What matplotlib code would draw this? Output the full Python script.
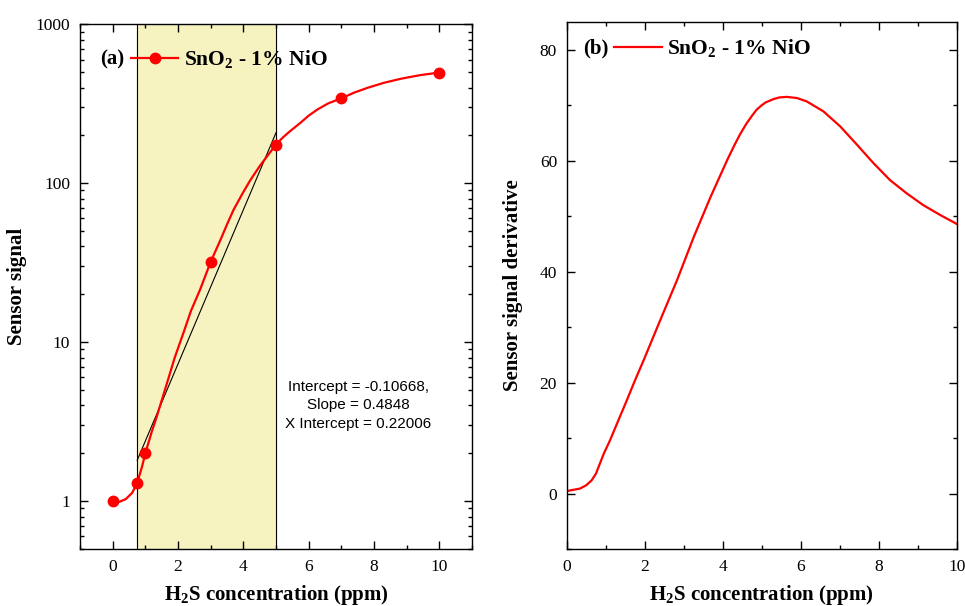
import numpy as np
import matplotlib
matplotlib.use('Agg')
import matplotlib.pyplot as plt
from matplotlib.ticker import FixedLocator, MultipleLocator, LogLocator, NullFormatter

plt.rcParams['font.family'] = 'Liberation Serif'
plt.rcParams['mathtext.fontset'] = 'custom'
plt.rcParams['mathtext.bf'] = 'Liberation Serif:bold'
plt.rcParams['mathtext.rm'] = 'Liberation Serif'
plt.rcParams['axes.linewidth'] = 1.0

# measured sensor response
conc = [0, 0.75, 1, 3, 5, 7, 10]
signal = [1.0, 1.3, 2.0, 32, 175, 342, 497]

# smoothed response curve
curve_x = [0, 0.2, 0.4, 0.6, 0.75, 0.9, 1.0, 1.2, 1.35, 1.5, 1.66, 1.9, 2.17, 2.4, 2.68, 3.0,
           3.3, 3.5, 3.7, 4.0, 4.22, 4.5, 4.73, 5.0, 5.2, 5.4, 5.75, 6.0, 6.27, 6.6, 7.0,
           7.4, 7.8, 8.3, 8.82, 9.4, 10.0]
curve_y = [1.0, 0.99, 1.03, 1.13, 1.3, 1.65, 2.0, 2.75, 3.4, 4.3, 5.5, 8.0, 11.5, 15.8, 21.5,
           32, 44, 55, 68, 88, 105, 128, 148, 175, 193, 210, 240, 266, 291, 318, 342,
           372, 398, 428, 454, 478, 497]

# linear fit of log10(signal) in the shaded window
fit_intercept = -0.10668
fit_slope = 0.4848
fit_range = [0.75, 5.0]

# derivative of the response
deriv_x = [0, 0.34, 0.5, 0.64, 0.75, 0.85, 0.95, 1.11, 1.3, 1.54, 1.75, 1.97, 2.40, 2.83, 3.26,
           3.69, 4.12, 4.3, 4.44, 4.6, 4.75, 4.87, 5.0, 5.1, 5.30, 5.45, 5.64, 5.9, 6.15, 6.58,
           7.01, 7.44, 7.86, 8.29, 8.72, 9.14, 9.58, 10.0]
deriv_y = [0.45, 0.9, 1.5, 2.4, 3.6, 5.4, 7.2, 9.6, 12.8, 16.8, 20.4, 24.0, 31.3, 38.5, 46.3,
           53.5, 60.2, 62.8, 64.7, 66.6, 68.1, 69.2, 70.0, 70.5, 71.1, 71.4, 71.5, 71.3, 70.7,
           68.9, 66.2, 62.9, 59.6, 56.5, 54.1, 52.0, 50.2, 48.6]

RED = '#ff0000'
legend_label = r'SnO$_\mathbf{2}$ - 1% NiO'
xlabel = r'H$_\mathbf{2}$S concentration (ppm)'

fig = plt.figure(figsize=(9.65, 6.06), dpi=100)
ax1 = fig.add_axes([0.0829, 0.094, 0.4062, 0.866])
ax2 = fig.add_axes([0.5873, 0.094, 0.4041, 0.8697])

# (a) sensor signal, log scale
ax1.axvspan(fit_range[0], fit_range[1], color='#f6f3c1', zorder=0)
for xv in fit_range:
    ax1.axvline(xv, color='black', lw=0.8, zorder=1)
fx = np.array(fit_range)
ax1.plot(fx, 10 ** (fit_intercept + fit_slope * fx), color='black', lw=0.8, zorder=2)
ax1.plot(curve_x, curve_y, color=RED, lw=1.6, zorder=3)
ax1.plot(conc, signal, 'o', color=RED, ms=7.5, zorder=4)
ax1.set_yscale('log')
ax1.set_xlim(-1, 11)
ax1.set_ylim(0.5, 1000)
ax1.set_yticks([1, 10, 100, 1000])
ax1.set_yticklabels(['1', '10', '100', '1000'])
ax1.yaxis.set_minor_locator(LogLocator(base=10, subs=np.arange(2, 10)))
ax1.yaxis.set_minor_formatter(NullFormatter())
ax1.xaxis.set_major_locator(FixedLocator([0, 2, 4, 6, 8, 10]))
ax1.xaxis.set_minor_locator(FixedLocator([-1, 1, 3, 5, 7, 9, 11]))
ax1.set_ylabel('Sensor signal', fontsize=15, fontweight='bold', labelpad=6)
ax1.text(0.051, 0.933, '(a)', transform=ax1.transAxes, fontsize=15, fontweight='bold',
         va='center', ha='left')
h1, = ax1.plot([], [], '-o', color=RED, lw=1.6, ms=7.5, label=legend_label)
ax1.legend(handles=[h1], loc='center left', bbox_to_anchor=(0.13, 0.933), frameon=False,
           borderpad=0, borderaxespad=0, handlelength=2.2, handletextpad=0.25,
           prop={'size': 15.5, 'weight': 'bold'})
ax1.text(0.71, 0.274, 'Intercept = -0.10668,\nSlope = 0.4848\nX Intercept = 0.22006',
         transform=ax1.transAxes, fontsize=11, family='Liberation Sans', ha='center',
         va='center', linespacing=1.4)

# (b) derivative
ax2.plot(deriv_x, deriv_y, color=RED, lw=1.6)
ax2.set_xlim(0, 10)
ax2.set_ylim(-10, 85)
ax2.xaxis.set_major_locator(MultipleLocator(2))
ax2.xaxis.set_minor_locator(MultipleLocator(1))
ax2.yaxis.set_major_locator(FixedLocator([0, 20, 40, 60, 80]))
ax2.yaxis.set_minor_locator(FixedLocator([-10, 10, 30, 50, 70]))
ax2.set_ylabel('Sensor signal derivative', fontsize=15, fontweight='bold', labelpad=12)
ax2.text(0.042, 0.949, '(b)', transform=ax2.transAxes, fontsize=15, fontweight='bold',
         va='center', ha='left')
h2, = ax2.plot([], [], '-', color=RED, lw=1.6, label=legend_label)
ax2.legend(handles=[h2], loc='center left', bbox_to_anchor=(0.122, 0.949), frameon=False,
           borderpad=0, borderaxespad=0, handlelength=2.2, handletextpad=0.25,
           prop={'size': 15.5, 'weight': 'bold'})

for ax in (ax1, ax2):
    ax.set_xlabel(xlabel, fontsize=15, fontweight='bold', labelpad=6)
    ax.tick_params(which='both', direction='in', top=True, right=True, labelsize=12.5)
    ax.tick_params(which='major', length=6, width=1)
    ax.tick_params(which='minor', length=3, width=1)
    ax.tick_params(axis='both', pad=7)

plt.savefig('out.png', dpi=100)
